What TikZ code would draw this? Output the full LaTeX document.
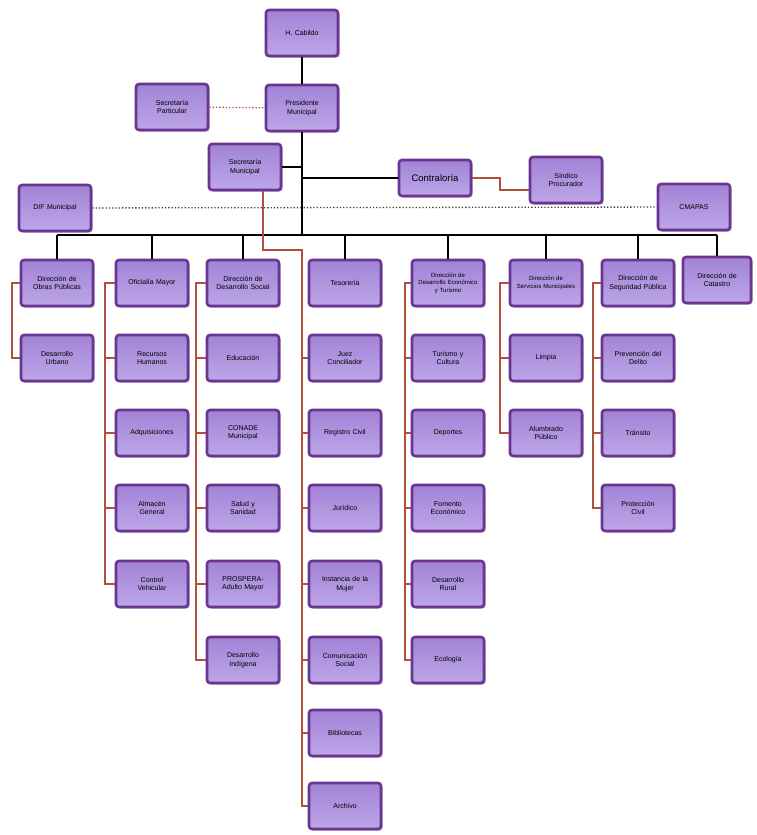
\documentclass[tikz,border=0pt]{standalone}
\usepackage{fontspec}
\setmainfont{Liberation Sans}
\usetikzlibrary{shadows}
\definecolor{boxfill}{HTML}{BDA6E8}
\definecolor{boxtop}{HTML}{A283D6}
\definecolor{boxborder}{HTML}{6A3590}
\definecolor{shadowc}{HTML}{5A2E78}
\definecolor{redline}{HTML}{B0503C}
\begin{document}
\begin{tikzpicture}[x=1pt,y=-1pt,
 box/.style={draw=boxborder,line width=2.6pt,top color=boxtop,bottom color=boxfill,rounded corners=3pt,
   minimum width=72pt,minimum height=46pt,text width=70pt,align=center,
   font=\fontsize{7}{8.5}\selectfont,inner sep=0pt,
   drop shadow={shadow xshift=1.5pt,shadow yshift=-1.5pt,fill=shadowc,opacity=0.5}},
 smalltext/.style={font=\fontsize{6}{7.5}\selectfont},
 blk/.style={line width=2pt,draw=black},
 rl/.style={line width=1.3pt,draw=redline},
 dotl/.style={line width=1.3pt,dotted}]
\useasboundingbox (0,0) rectangle (756,835);
% top
\node[box] (cab) at (302,33) {H. Cabildo};
\node[box] (pres) at (302,108) {Presidente\\Municipal};
\node[box] (spart) at (172,107) {Secretaría\\Particular};
\node[box] (smun) at (245,167) {Secretaría\\Municipal};
\node[box] (dif) at (55,208) {DIF Municipal};
\node[box,minimum height=36pt] (contra) at (435,178) {\fontsize{9.5}{10}\selectfont Contraloría};
\node[box] (sind) at (566,180) {Síndico\\Procurador};
\node[box] (cmapas) at (694,207) {CMAPAS};
% column 1
\node[box] (d1) at (57,283) {Dirección de\\Obras Públicas};
\node[box] (d2) at (57,358) {Desarrollo\\Urbano};
% column 2
\node[box] (o1) at (152,283) {Oficialía Mayor};
\node[box] (o2) at (152,358) {Recursos\\Humanos};
\node[box] (o3) at (152,433) {Adquisiciones};
\node[box] (o4) at (152,508) {Almacén\\General};
\node[box] (o5) at (152,584) {Control\\Vehicular};
% column 3
\node[box] (s1) at (243,283) {Dirección de\\Desarrollo Social};
\node[box] (s2) at (243,358) {Educación};
\node[box] (s3) at (243,433) {CONADE\\Municipal};
\node[box] (s4) at (243,508) {Salud y\\Sanidad};
\node[box] (s5) at (243,584) {PROSPERA-\\Adulto Mayor};
\node[box] (s6) at (243,660) {Desarrollo\\Indígena};
% column 4
\node[box] (t1) at (345,283) {Tesorería};
\node[box] (t2) at (345,358) {Juez\\Conciliador};
\node[box] (t3) at (345,433) {Registro Civil};
\node[box] (t4) at (345,508) {Jurídico};
\node[box] (t5) at (345,584) {Instancia de la\\Mujer};
\node[box] (t6) at (345,660) {Comunicación\\Social};
\node[box] (t7) at (345,733) {Bibliotecas};
\node[box] (t8) at (345,806) {Archivo};
% column 5
\node[box,smalltext] (e1) at (448,283) {Dirección de\\Desarrollo Económico\\y Turismo};
\node[box] (e2) at (448,358) {Turismo y\\Cultura};
\node[box] (e3) at (448,433) {Deportes};
\node[box] (e4) at (448,508) {Fomento\\Económico};
\node[box] (e5) at (448,584) {Desarrollo\\Rural};
\node[box] (e6) at (448,660) {Ecología};
% column 6
\node[box,smalltext] (m1) at (546,283) {Dirección de\\Servicios Municipales};
\node[box] (m2) at (546,358) {Limpia};
\node[box] (m3) at (546,433) {Alumbrado\\Público};
% column 7
\node[box] (p1) at (638,283) {Dirección de\\Seguridad Pública};
\node[box] (p2) at (638,358) {Prevención del\\Delito};
\node[box] (p3) at (638,433) {Tránsito};
\node[box] (p4) at (638,508) {Protección\\Civil};
% column 8
\node[box,minimum width=68pt,text width=64pt] (c1) at (717,280) {Dirección de\\Catastro};
% coordinates
\coordinate (tj) at (302,235);
\coordinate (busL) at (57,235);
\coordinate (busR) at (717,235);
\coordinate (b1) at (12,0);
\coordinate (b2) at (105,0);
\coordinate (b3) at (196,0);
\coordinate (b5) at (405,0);
\coordinate (b6) at (500,0);
\coordinate (b7) at (593,0);
\coordinate (rA) at (263,250);
\coordinate (rB) at (302,250);
\coordinate (sa) at (500,178);
\coordinate (sb) at (500,190);
% dotted relations
\draw[dotl,draw=redline] (spart) -- (pres);
\draw[dotl,draw=black!75] (dif) -- (cmapas);
% black trunk and bus
\draw[blk] (cab) -- (pres);
\draw[blk] (pres) -- (tj);
\draw[blk] (smun.east) -- (smun.east -| tj);
\draw[blk] (contra.west -| tj) -- (contra.west);
\draw[blk] (busL) -- (busR);
\foreach \h in {d1,o1,s1,t1,e1,m1,p1,c1}
  \draw[blk] (\h.north |- tj) -- (\h.north);
% red connectors
\draw[rl] (contra.east) -- (sa) -- (sb) -- (sb -| sind.west);
\draw[rl] (smun.south -| rA) -- (rA) -- (rB) -- (t8.west -| rB) -- (t8.west);
\foreach \n in {t2,t3,t4,t5,t6,t7}
  \draw[rl] (\n.west -| rB) -- (\n.west);
\draw[rl] (d1.west) -- (d1.west -| b1) -- (d2.west -| b1) -- (d2.west);
\draw[rl] (o1.west) -- (o1.west -| b2) -- (o5.west -| b2) -- (o5.west);
\foreach \n in {o2,o3,o4} \draw[rl] (\n.west -| b2) -- (\n.west);
\draw[rl] (s1.west) -- (s1.west -| b3) -- (s6.west -| b3) -- (s6.west);
\foreach \n in {s2,s3,s4,s5} \draw[rl] (\n.west -| b3) -- (\n.west);
\draw[rl] (e1.west) -- (e1.west -| b5) -- (e6.west -| b5) -- (e6.west);
\foreach \n in {e2,e3,e4,e5} \draw[rl] (\n.west -| b5) -- (\n.west);
\draw[rl] (m1.west) -- (m1.west -| b6) -- (m3.west -| b6) -- (m3.west);
\draw[rl] (m2.west -| b6) -- (m2.west);
\draw[rl] (p1.west) -- (p1.west -| b7) -- (p4.west -| b7) -- (p4.west);
\foreach \n in {p2,p3} \draw[rl] (\n.west -| b7) -- (\n.west);
\end{tikzpicture}
\end{document}
